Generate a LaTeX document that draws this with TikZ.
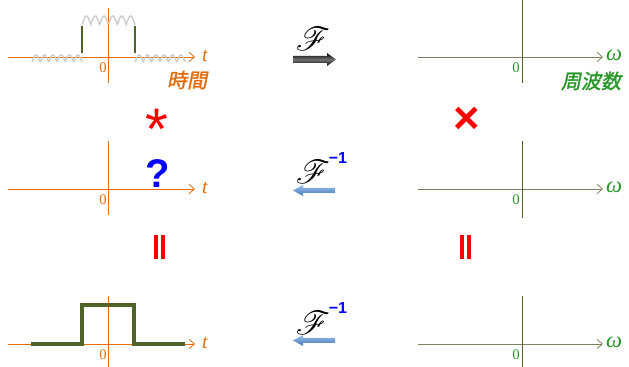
\documentclass[tikz,border=0pt]{standalone}
\usepackage{fontspec}
\usepackage{mathrsfs}
\setmainfont{Liberation Serif}
\newfontfamily\sansfont{Liberation Sans}
\newfontfamily\jpfont[FakeSlant=0.2,FakeBold=1.5]{Noto Sans CJK JP}
\usetikzlibrary{arrows.meta}

\definecolor{timeorange}{RGB}{228,108,10}
\definecolor{freqgreen}{RGB}{40,150,40}
\definecolor{axisolive}{RGB}{128,128,96}
\definecolor{darkolive}{RGB}{79,98,40}
\definecolor{wavegray}{RGB}{205,205,205}
\definecolor{arrowlight}{RGB}{150,190,235}
\definecolor{arrowdark}{RGB}{70,120,185}

\tikzset{
    taxis/.style={timeorange, line width=0.6pt, -{Straight Barb[length=4pt,width=7pt]}},
    tvert/.style={timeorange, line width=0.7pt},
    waxis/.style={axisolive, line width=0.6pt, -{Straight Barb[length=4pt,width=7pt]}},
    wvert/.style={darkolive, line width=0.7pt},
    tlabel/.style={timeorange, font=\fontsize{15}{15}\selectfont\itshape},
    wlabel/.style={freqgreen, font=\fontsize{17}{17}\selectfont\itshape},
    tzero/.style={timeorange, font=\fontsize{11}{11}\selectfont},
    wzero/.style={freqgreen, font=\fontsize{11}{11}\selectfont},
    wave/.style={wavegray, line width=1.1pt},
    pulse/.style={darkolive, line width=2.3pt},
    fourier/.style={font=\fontsize{28}{28}\selectfont},
    inverse/.style={blue, font=\fontsize{12}{12}\selectfont\sansfont\bfseries},
}

\begin{document}
\begin{tikzpicture}[x=0.75pt, y=-0.75pt]
    \useasboundingbox (0,0) rectangle (629,367);

    % ===== 上段：時間領域の信号 =====
    \draw[taxis] (8,57) -- (195,57);
    \draw[tvert] (108,8) -- (108,83);
    \node[tlabel] (t1) at (205,56) {t};
    \node[tzero] (z1) at (103,68) {0};
    \node[timeorange, font=\fontsize{15}{15}\selectfont\jpfont] (time) at (187,80) {時間};

    % 波打つ信号（灰色）
    \draw[wave] plot[domain=32:82, samples=80] (\x, {62 - 7*abs(sin(180*(\x-32)/8.33))});
    \draw[wave] plot[domain=82:135, samples=80] (\x, {25 - 9*abs(sin(180*(\x-82)/8.83))});
    \draw[wave] plot[domain=135:185, samples=80] (\x, {62 - 7*abs(sin(180*(\x-135)/8.33))});
    \draw[darkolive, line width=0.9pt] (82,26) -- (82,53);
    \draw[darkolive, line width=0.9pt] (135,26) -- (135,53);

    % フーリエ変換の矢印
    \node[fourier] (f1) at (313,39) {$\mathscr{F}$};
    \shade[top color=black, bottom color=black, middle color=black!55]
        (293,56) -- (327,56) -- (327,53) -- (336,59.5) -- (327,66) -- (327,63) -- (293,63) -- cycle;

    % 上段：周波数領域
    \draw[waxis] (418,57) -- (603,57);
    \draw[wvert] (522,0) -- (522,83);
    \node[wlabel] (w1) at (614,55) {ω};
    \node[wzero] (y1) at (516,68) {0};
    \node[freqgreen, font=\fontsize{15}{15}\selectfont\jpfont] (freq) at (591,81) {周波数};

    % ===== 演算記号 =====
    \node[red, inner sep=0pt, text height=14pt, text depth=0pt,
          font=\fontsize{44}{44}\selectfont\sansfont] (conv) at (157,140) {*};
    \node[red, font=\fontsize{34}{34}\selectfont\sansfont\bfseries] (times) at (467,120) {×};

    % ===== 中段 =====
    \draw[taxis] (8,189) -- (195,189);
    \draw[tvert] (108,141) -- (108,215);
    \node[tlabel] (t2) at (205,188) {t};
    \node[tzero] (z2) at (103,200) {0};
    \node[blue, inner sep=0pt, font=\fontsize{30}{30}\selectfont\sansfont\bfseries] (ask) at (158,174) {?};

    \node[fourier] (f2) at (313,172) {$\mathscr{F}$};
    \node[inverse] (m2) at (338,158) {−1};
    \shade[top color=arrowlight, bottom color=arrowdark]
        (335,188) -- (303,188) -- (303,185) -- (293,190.5) -- (303,196) -- (303,193) -- (335,193) -- cycle;

    \draw[waxis] (418,189) -- (603,189);
    \draw[wvert] (522,141) -- (522,218);
    \node[wlabel] (w2) at (614,187) {ω};
    \node[wzero] (y2) at (516,200) {0};

    % ===== 等号（縦） =====
    \fill[red] (154,235) rectangle (158,259);
    \fill[red] (161,235) rectangle (165,259);
    \fill[red] (460,235) rectangle (464,259);
    \fill[red] (467,235) rectangle (471,259);

    % ===== 下段：矩形パルス =====
    \draw[taxis] (8,344) -- (195,344);
    \draw[tvert] (108,296) -- (108,367);
    \node[tlabel] (t3) at (205,343) {t};
    \node[tzero] (z3) at (103,355) {0};
    \draw[pulse] (31,344) -- (82,344) -- (82,305) -- (134,305) -- (134,344) -- (185,344);

    \node[fourier] (f3) at (313,323) {$\mathscr{F}$};
    \node[inverse] (m3) at (338,308) {−1};
    \shade[top color=arrowlight, bottom color=arrowdark]
        (335,338) -- (303,338) -- (303,335) -- (293,340.5) -- (303,346) -- (303,343) -- (335,343) -- cycle;

    \draw[waxis] (418,344) -- (603,344);
    \draw[wvert] (522,296) -- (522,367);
    \node[wlabel] (w3) at (614,342) {ω};
    \node[wzero] (y3) at (516,355) {0};
\end{tikzpicture}
\end{document}
